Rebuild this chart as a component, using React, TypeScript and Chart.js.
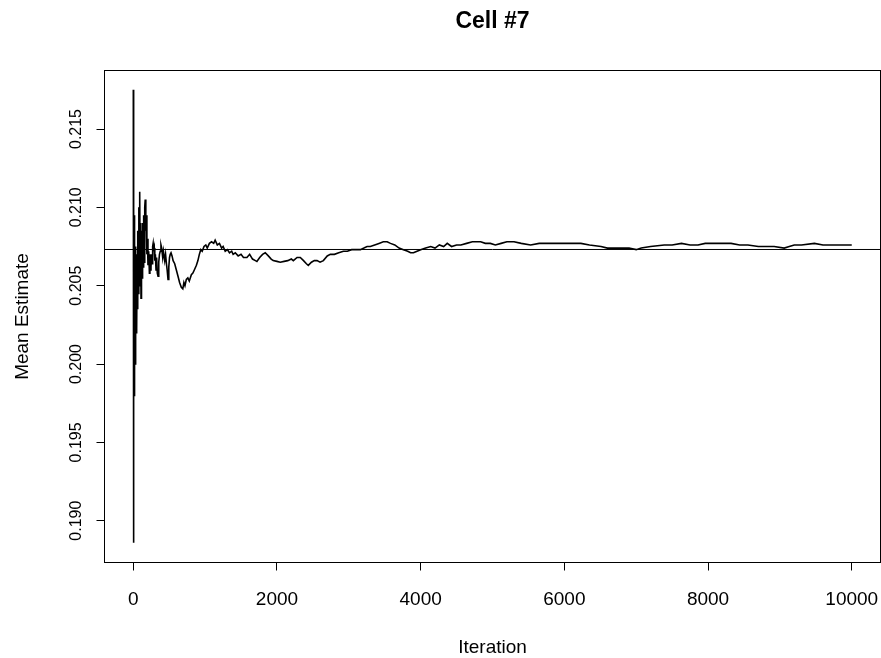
import React, { useEffect, useRef } from "react";
import { Chart, registerables } from "chart.js";

Chart.register(...registerables);

const iterations: number[] = [
  1, 2, 3, 4, 5, 6, 7, 8, 10, 12, 14, 16, 18, 20, 23, 26, 30, 33, 37, 40, 45, 50, 55, 60, 65, 70, 78, 85, 90, 97,
  103, 108, 115, 122, 130, 137, 145, 152, 160, 167, 175, 182, 190, 198, 205, 215, 225, 232, 240, 247, 255, 262, 270,
  277, 285, 293, 300, 308, 317, 325, 335, 345, 355, 365, 376, 386, 396, 410, 420, 438, 450, 462, 472, 484, 495, 505,
  515, 526, 540, 555, 577, 600, 623, 645, 669, 690, 705, 720, 739, 760, 780, 809, 830, 850, 879, 900, 920, 940, 960,
  985, 1010, 1030, 1060, 1090, 1120, 1140, 1170, 1200, 1230, 1251, 1280, 1310, 1340, 1370, 1390, 1420, 1460, 1500,
  1534, 1582, 1620, 1660, 1700, 1721, 1760, 1800, 1837, 1880, 1920, 1948, 2000, 2046, 2100, 2150, 2200, 2228, 2280,
  2325, 2370, 2410, 2436, 2480, 2520, 2558, 2600, 2646, 2700, 2743, 2800, 2860, 2925, 2980, 3040, 3100, 3162, 3210,
  3255, 3300, 3360, 3420, 3480, 3534, 3580, 3640, 3700, 3760, 3820, 3860, 3900, 3950, 4000, 4070, 4140, 4200, 4260,
  4320, 4370, 4430, 4500, 4560, 4640, 4720, 4835, 4900, 4970, 5040, 5120, 5200, 5300, 5400, 5530, 5650, 5800, 5995,
  6100, 6230, 6350, 6510, 6600, 6700, 6800, 6900, 7000, 7070, 7200, 7390, 7500, 7630, 7750, 7860, 7960, 8080, 8200,
  8320, 8440, 8555, 8700, 8800, 8920, 9060, 9130, 9200, 9300, 9480, 9600, 9750, 9900, 10000,
];

// Running mean estimate at those iterations
const meanEstimates: number[] = [
  0.2175, 0.1886, 0.212, 0.1935, 0.2115, 0.195, 0.206, 0.1965, 0.208, 0.198, 0.2095, 0.199, 0.207, 0.1988, 0.206,
  0.2, 0.2075, 0.201, 0.2065, 0.202, 0.205, 0.2022, 0.207, 0.2035, 0.2085, 0.2045, 0.21, 0.206, 0.211, 0.205,
  0.209, 0.2042, 0.2085, 0.2055, 0.209, 0.2062, 0.2095, 0.2065, 0.21, 0.2105, 0.2085, 0.2095, 0.207, 0.208, 0.2063,
  0.2072, 0.2058, 0.207, 0.206, 0.2062, 0.207, 0.2064, 0.2075, 0.2077, 0.2072, 0.2074, 0.2066, 0.207, 0.206, 0.2068,
  0.2058, 0.2056, 0.2065, 0.207, 0.2072, 0.2076, 0.2074, 0.2068, 0.2072, 0.2066, 0.207, 0.2064, 0.206, 0.2054,
  0.2062, 0.2068, 0.207, 0.2071, 0.2069, 0.2066, 0.2064, 0.206, 0.2056, 0.2052, 0.2049, 0.2048, 0.2052, 0.205,
  0.2054, 0.2055, 0.2053, 0.2057, 0.2058, 0.206, 0.2063, 0.2066, 0.207, 0.2073, 0.2072, 0.2075, 0.2076, 0.2074,
  0.2077, 0.2078, 0.2077, 0.2079, 0.2076, 0.2077, 0.2074, 0.2075, 0.2072, 0.2073, 0.2071, 0.2072, 0.207, 0.2071,
  0.2069, 0.207, 0.2068, 0.2068, 0.207, 0.2067, 0.2066, 0.20655, 0.2068, 0.207, 0.2071, 0.2069, 0.2067, 0.2066,
  0.20655, 0.2065, 0.20655, 0.2066, 0.2067, 0.2066, 0.2068, 0.2068, 0.2066, 0.2064, 0.2063, 0.2065, 0.2066, 0.2066,
  0.2065, 0.2066, 0.2069, 0.207, 0.207, 0.2071, 0.2072, 0.2072, 0.2073, 0.2073, 0.2073, 0.2074, 0.2075, 0.2075,
  0.2076, 0.2077, 0.2078, 0.2078, 0.2077, 0.2076, 0.2074, 0.2073, 0.2072, 0.2071, 0.2071, 0.2072, 0.2073, 0.2074,
  0.2075, 0.2074, 0.2076, 0.2075, 0.2077, 0.2075, 0.2076, 0.2076, 0.2077, 0.2078, 0.2078, 0.2077, 0.2077, 0.2076,
  0.2077, 0.2078, 0.2078, 0.2077, 0.2076, 0.2077, 0.2077, 0.2077, 0.2077, 0.2077, 0.2076, 0.2075, 0.2074, 0.2074,
  0.2074, 0.2074, 0.2073, 0.2074, 0.2075, 0.2076, 0.2076, 0.2077, 0.2076, 0.2076, 0.2077, 0.2077, 0.2077, 0.2077,
  0.2076, 0.2076, 0.2075, 0.2075, 0.2075, 0.2074, 0.2075, 0.2076, 0.2076, 0.2077, 0.2076, 0.2076, 0.2076, 0.2076,
];

// Reference (overall mean) horizontal line
const referenceMean = 0.20731;

const xTicks: number[] = [0, 2000, 4000, 6000, 8000, 10000];
const yTicks: number[] = [0.19, 0.195, 0.2, 0.205, 0.21, 0.215];

const chartTitle = "Cell #7";
const xTitle = "Iteration";
const yTitle = "Mean Estimate";

const X_MIN = -400;
const X_MAX = 10400;
const Y_MIN = 0.187332;
const Y_MAX = 0.218734;

const FONT = "'Liberation Sans', Arial, Helvetica, sans-serif";

const boxPlugin = {
  id: "rbox",
  afterDraw(chart: any) {
    const { ctx, chartArea } = chart;
    ctx.save();
    ctx.strokeStyle = "#000";
    ctx.lineWidth = 1;
    ctx.strokeRect(chartArea.left, chartArea.top, chartArea.right - chartArea.left, chartArea.bottom - chartArea.top);
    // main title, centred over the plot region as R does
    ctx.fillStyle = "#000";
    ctx.font = `bold 23px ${FONT}`;
    ctx.textAlign = "center";
    ctx.textBaseline = "middle";
    ctx.fillText(chartTitle, (chartArea.left + chartArea.right) / 2, 22);
    ctx.restore();
  },
};

export default function App() {
  const ref = useRef<HTMLCanvasElement | null>(null);

  useEffect(() => {
    if (!ref.current) return;
    const points = iterations.map((it, i) => ({ x: it, y: meanEstimates[i] }));
    const refLine = [
      { x: X_MIN, y: referenceMean },
      { x: X_MAX, y: referenceMean },
    ];
    const chart = new Chart(ref.current, {
      type: "line",
      data: {
        datasets: [
          {
            data: points,
            borderColor: "#000",
            borderWidth: 1.6,
            pointRadius: 0,
            tension: 0,
            fill: false,
          },
          {
            data: refLine,
            borderColor: "#000",
            borderWidth: 1,
            pointRadius: 0,
            tension: 0,
            fill: false,
          },
        ],
      },
      options: {
        animation: false,
        responsive: false,
        devicePixelRatio: 1,
        events: [],
        layout: { padding: { top: 70.5, left: 0.5, right: 0.5, bottom: 0 } },
        plugins: {
          legend: { display: false },
          tooltip: { enabled: false },
          title: { display: false },
        },
        scales: {
          x: {
            type: "linear",
            min: X_MIN,
            max: X_MAX,
            afterBuildTicks: (scale: any) => {
              scale.ticks = xTicks.map((v) => ({ value: v }));
            },
            afterFit: (scale: any) => {
              scale.height = 95.5;
              scale.paddingLeft = 0;
              scale.paddingRight = 0;
            },
            border: { display: false },
            grid: {
              display: true,
              drawOnChartArea: false,
              drawTicks: true,
              tickLength: 8,
              color: "#000",
              lineWidth: 1,
            },
            ticks: {
              color: "#000",
              font: { family: FONT, size: 19, lineHeight: 1.2 },
              padding: 18,
              maxRotation: 0,
              minRotation: 0,
              autoSkip: false,
              callback: (v: any) => String(v),
            },
            title: {
              display: true,
              text: xTitle,
              color: "#000",
              font: { family: FONT, size: 19, lineHeight: 1.05 },
              padding: { top: 0, bottom: 0 },
            },
          },
          y: {
            type: "linear",
            min: Y_MIN,
            max: Y_MAX,
            afterBuildTicks: (scale: any) => {
              scale.ticks = yTicks.map((v) => ({ value: v }));
            },
            afterFit: (scale: any) => {
              scale.width = 104;
              scale.paddingTop = 0;
              scale.paddingBottom = 0;
            },
            border: { display: false },
            grid: {
              display: true,
              drawOnChartArea: false,
              drawTicks: true,
              tickLength: 8,
              color: "#000",
              lineWidth: 1,
            },
            ticks: {
              color: "#000",
              font: { family: FONT, size: 16, lineHeight: 1.2 },
              padding: 0,
              minRotation: 90,
              maxRotation: 90,
              crossAlign: "center",
              autoSkip: false,
              callback: (v: any) => Number(v).toFixed(3),
            },
            title: {
              display: true,
              text: yTitle,
              color: "#000",
              font: { family: FONT, size: 19, lineHeight: 1.05 },
              padding: { top: 12, bottom: 0 },
            },
          },
        },
      },
      plugins: [boxPlugin],
    });
    return () => chart.destroy();
  }, []);

  return (
    <div style={{ position: "fixed", left: 0, top: 0, width: 881, height: 658, background: "#fff" }}>
      <canvas ref={ref} width={881} height={658} style={{ width: 881, height: 658, display: "block" }} />
    </div>
  );
}
